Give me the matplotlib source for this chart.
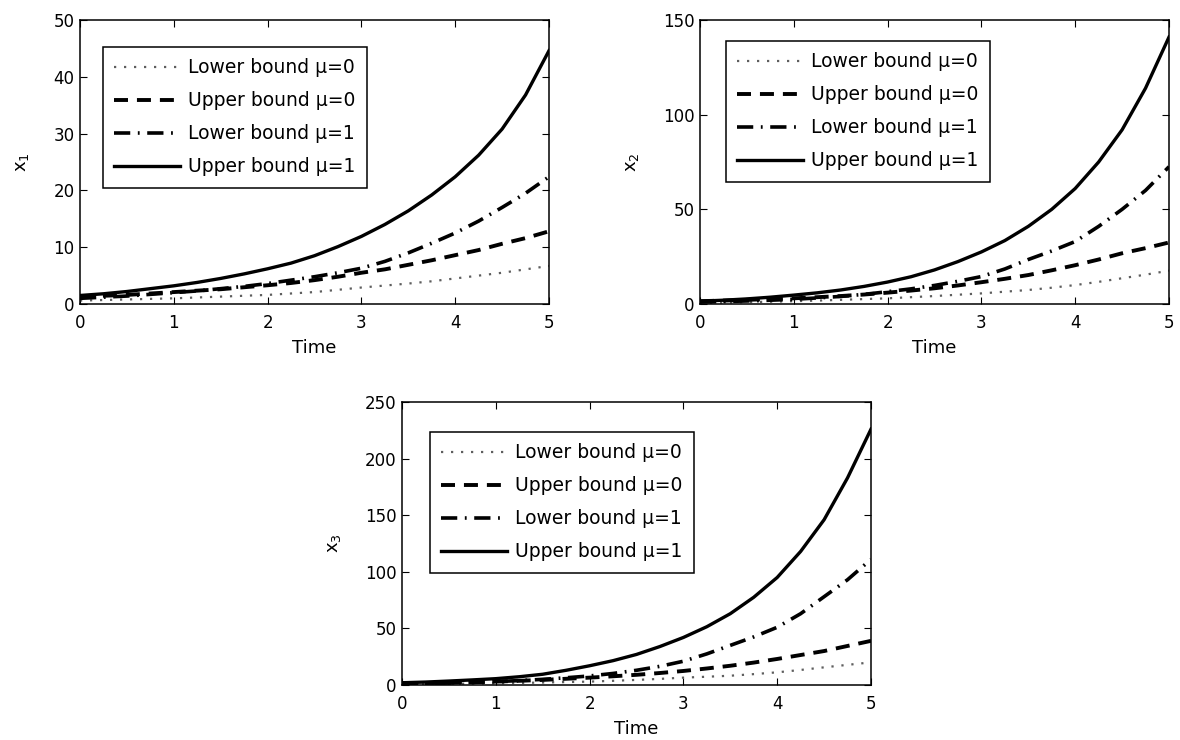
import matplotlib
matplotlib.use("Agg")
import matplotlib.pyplot as plt

plt.rcParams['font.family'] = ['DejaVu Sans']
plt.rcParams['mathtext.default'] = 'regular'

time = [0, 0.25, 0.5, 0.75, 1, 1.25, 1.5, 1.75, 2, 2.25, 2.5,
        2.75, 3, 3.25, 3.5, 3.75, 4, 4.25, 4.5, 4.75, 5]
labels = ['Lower bound \u03bc=0', 'Upper bound \u03bc=0', 'Lower bound \u03bc=1', 'Upper bound \u03bc=1']

x1_lower_mu0 = [0.6, 0.7, 0.8, 0.9, 1.0, 1.15, 1.3, 1.45, 1.6, 1.85, 2.1,
                2.5, 2.9, 3.25, 3.6, 4.0, 4.5, 5.0, 5.5, 6.1, 6.7]
x1_upper_mu0 = [1.3, 1.45, 1.6, 1.85, 2.1, 2.35, 2.6, 2.95, 3.3, 3.7, 4.2,
                4.8, 5.5, 6.1, 6.9, 7.7, 8.6, 9.5, 10.6, 11.6, 12.8]
x1_lower_mu1 = [1.0, 1.2, 1.4, 1.7, 2.0, 2.3, 2.7, 3.1, 3.6, 4.2, 4.8,
                5.5, 6.3, 7.5, 9.0, 10.7, 12.5, 14.6, 17.0, 19.5, 22.4]
x1_upper_mu1 = [1.5, 1.8, 2.2, 2.7, 3.2, 3.8, 4.5, 5.3, 6.2, 7.2, 8.5,
                10.1, 11.9, 14.0, 16.4, 19.2, 22.4, 26.2, 30.8, 36.8, 44.6]

x2_lower_mu0 = [0.5, 0.7, 1.0, 1.2, 1.5, 1.8, 2.2, 2.6, 3.0, 3.6, 4.2,
                4.9, 5.6, 6.5, 7.4, 8.6, 10.0, 11.7, 13.6, 15.5, 17.6]
x2_upper_mu0 = [1.5, 1.8, 2.2, 2.6, 3.0, 3.6, 4.2, 5.0, 6.0, 7.1, 8.3,
                9.8, 11.5, 13.3, 15.3, 17.8, 20.5, 23.5, 26.8, 29.5, 32.5]
x2_lower_mu1 = [1.0, 1.3, 1.6, 2.0, 2.5, 3.2, 4.0, 5.1, 6.5, 8.0, 9.8,
                12.0, 14.5, 18.5, 23.5, 28.0, 33.0, 41.0, 50.0, 60.0, 72.5]
x2_upper_mu1 = [1.5, 2.0, 2.7, 3.6, 4.7, 5.9, 7.4, 9.3, 11.6, 14.4, 18.0,
                22.4, 27.5, 33.5, 41.0, 50.0, 61.0, 75.0, 92.0, 114.0, 141.0]

x3_lower_mu0 = [0.5, 0.7, 1.0, 1.2, 1.5, 1.8, 2.2, 2.6, 3.0, 3.7, 4.5,
                5.4, 6.5, 7.3, 8.2, 9.6, 11.2, 13.3, 15.6, 17.8, 20.0]
x3_upper_mu0 = [1.5, 1.7, 2.0, 2.5, 3.0, 3.7, 4.5, 5.5, 6.5, 7.7, 9.0,
                10.6, 12.4, 14.6, 17.0, 19.8, 23.0, 26.5, 30.0, 34.5, 39.0]
x3_lower_mu1 = [1.0, 1.3, 1.7, 2.3, 3.0, 3.9, 5.0, 6.4, 8.0, 10.2, 13.0,
                16.5, 21.0, 27.5, 35.0, 42.5, 51.0, 63.0, 78.0, 93.0, 111.0]
x3_upper_mu1 = [2.0, 2.6, 3.5, 4.5, 5.6, 7.3, 9.5, 13.0, 17.0, 21.5, 27.0,
                34.0, 42.0, 51.5, 63.0, 77.5, 95.0, 118.0, 146.0, 183.0, 226.0]

panels = [
    ('x$_1$', [x1_lower_mu0, x1_upper_mu0, x1_lower_mu1, x1_upper_mu1], 50, [0, 10, 20, 30, 40, 50]),
    ('x$_2$', [x2_lower_mu0, x2_upper_mu0, x2_lower_mu1, x2_upper_mu1], 150, [0, 50, 100, 150]),
    ('x$_3$', [x3_lower_mu0, x3_upper_mu0, x3_lower_mu1, x3_upper_mu1], 250, [0, 50, 100, 150, 200, 250]),
]

positions = [
    [80/1180, 1 - 304/740, 469/1180, 284/740],
    [700/1180, 1 - 304/740, 469/1180, 284/740],
    [402/1180, 1 - 685/740, 469/1180, 283/740],
]
legend_anchor = [(0.049, 0.905), (0.055, 0.926), (0.06, 0.894)]

styles = [
    dict(color='#5e5e5e', linestyle=(0, (1, 3.5)), linewidth=1.6),
    dict(color='black', linestyle=(0, (3.6, 2.3)), linewidth=2.8),
    dict(color='black', linestyle=(0, (4.5, 2.1, 0.5, 2.1)), linewidth=2.6),
    dict(color='black', linestyle='-', linewidth=2.4),
]

fig = plt.figure(figsize=(11.8, 7.4), dpi=100)
for (ylab, series, ymax, yticks), pos, anc in zip(panels, positions, legend_anchor):
    ax = fig.add_axes(pos)
    for ys, st, lab in zip(series, styles, labels):
        ax.plot(time, ys, label=lab, dash_capstyle='butt', **st)
    ax.set_xlim(0, 5)
    ax.set_ylim(0, ymax)
    ax.set_xticks([0, 1, 2, 3, 4, 5])
    ax.set_yticks(yticks)
    ax.tick_params(direction='in', length=5, width=0.8, top=True, right=True, labelsize=12)
    ax.tick_params(axis='x', pad=7)
    ax.tick_params(axis='y', pad=4)
    for sp in ax.spines.values():
        sp.set_linewidth(1.1)
    ax.set_xlabel('Time', fontsize=13, labelpad=5)
    ax.set_ylabel(ylab, fontsize=13, labelpad=16)
    leg = ax.legend(loc='upper left', bbox_to_anchor=anc, fontsize=13.5, frameon=True,
                    fancybox=False, edgecolor='black', framealpha=1, handlelength=3.5,
                    handletextpad=0.45, borderpad=0.6, labelspacing=0.75, borderaxespad=0)
    leg.get_frame().set_linewidth(1.1)

fig.savefig('out.png', dpi=100)
